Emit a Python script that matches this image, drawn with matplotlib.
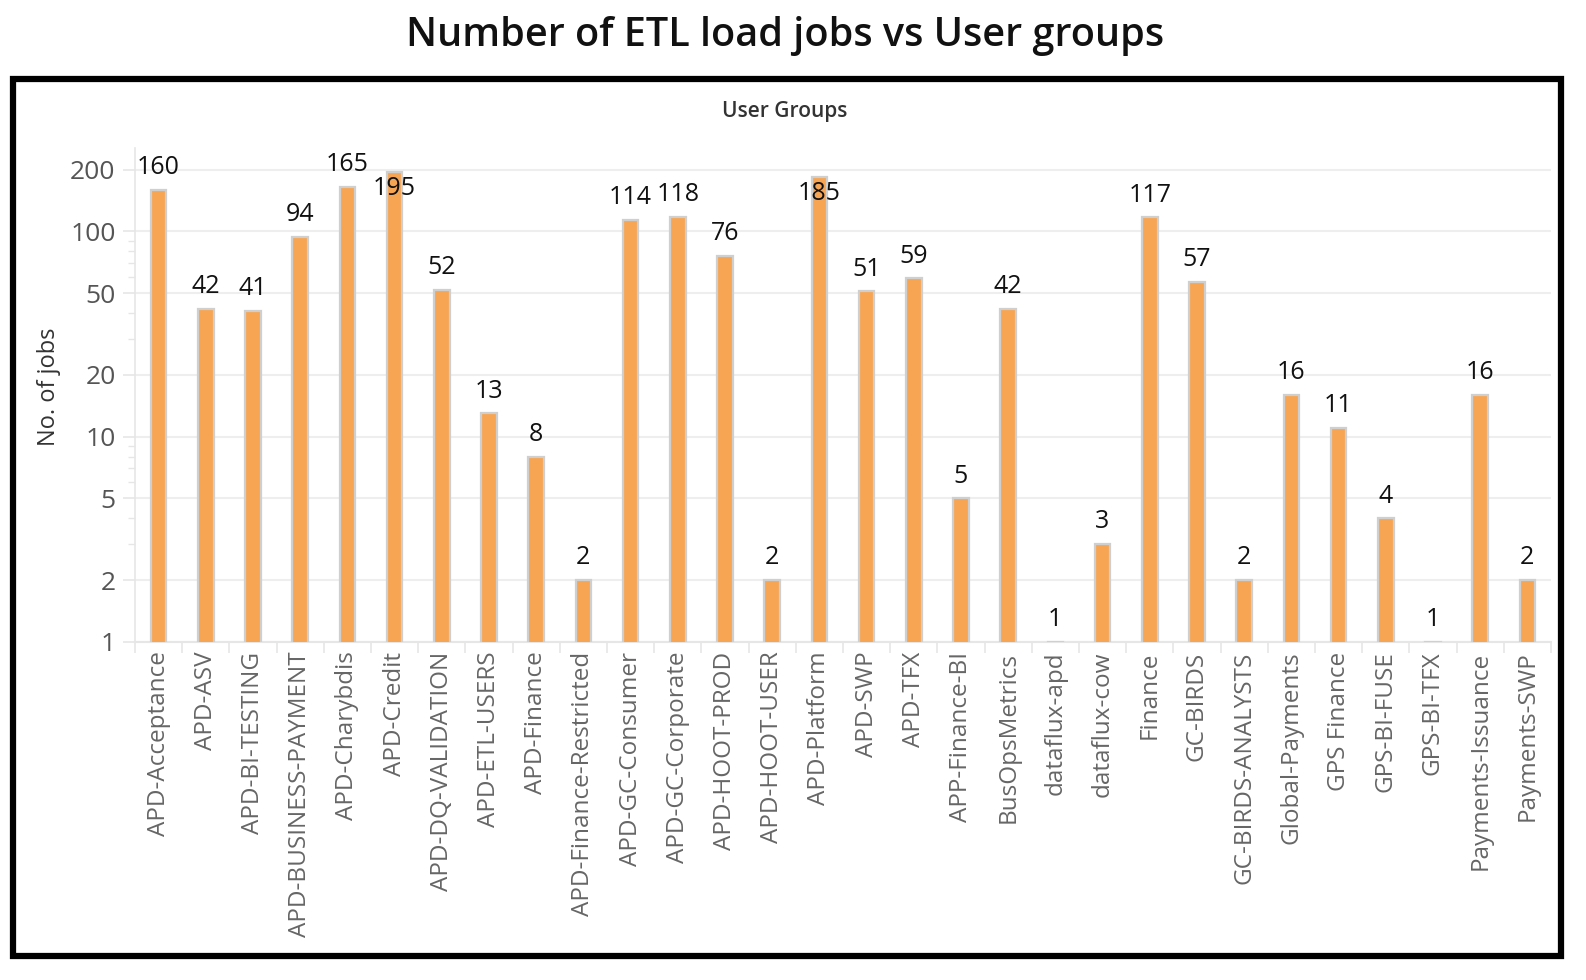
import numpy as np
import matplotlib
matplotlib.use("Agg")
import matplotlib.pyplot as plt
from matplotlib.patches import Rectangle
from matplotlib.ticker import FixedLocator, NullFormatter

# ----------------------------
# Data
# ----------------------------
groups = [
    "APD-Acceptance", "APD-ASV", "APD-BI-TESTING", "APD-BUSINESS-PAYMENT",
    "APD-Charybdis", "APD-Credit", "APD-DQ-VALIDATION", "APD-ETL-USERS",
    "APD-Finance", "APD-Finance-Restricted", "APD-GC-Consumer", "APD-GC-Corporate",
    "APD-HOOT-PROD", "APD-HOOT-USER", "APD-Platform", "APD-SWP", "APD-TFX",
    "APP-Finance-BI", "BusOpsMetrics", "dataflux-apd", "dataflux-cow", "Finance",
    "GC-BIRDS", "GC-BIRDS-ANALYSTS", "Global-Payments", "GPS Finance",
    "GPS-BI-FUSE", "GPS-BI-TFX", "Payments-Issuance", "Payments-SWP",
]
jobs = [160, 42, 41, 94, 165, 195, 52, 13, 8, 2, 114, 118, 76, 2, 185,
        51, 59, 5, 42, 1, 3, 117, 57, 2, 16, 11, 4, 1, 16, 2]

y_ticks = [1, 2, 5, 10, 20, 50, 100, 200]

# ----------------------------
# Plot
# ----------------------------
plt.rcParams["font.family"] = ["Open Sans", "DejaVu Sans"]

fig = plt.figure(figsize=(15.86, 9.8), dpi=100)
ax = fig.add_axes([0.0851, 0.345, 0.8928, 0.504])

x = np.arange(len(groups))
ax.bar(x, jobs, width=0.33, color="#F8A553", edgecolor="#CFCFCF", linewidth=1.6, zorder=3)

ax.set_yscale("log")
ax.set_ylim(1, 255)
ax.set_xlim(-0.5, len(groups) - 0.5)

ax.yaxis.set_major_locator(FixedLocator(y_ticks))
ax.set_yticklabels([str(t) for t in y_ticks])
minor = [v for d in [1, 10, 100] for v in np.arange(2, 10) * d if v not in y_ticks and v < 255]
ax.yaxis.set_minor_locator(FixedLocator(minor))
ax.yaxis.set_minor_formatter(NullFormatter())
ax.grid(axis="y", which="major", color="#EEEEEE", linewidth=1.5, zorder=0)

ax.tick_params(axis="y", which="major", length=9, width=1.2, color="#E6E6E6",
               labelsize=19, labelcolor="#555555", pad=5)
ax.tick_params(axis="y", which="minor", length=5, width=1.0, color="#E6E6E6")

ax.set_xticks(x)
ax.set_xticklabels(groups, rotation=90, fontsize=17.5, color="#666666")
ax.set_xticks(np.arange(-0.5, len(groups) + 0.5, 1), minor=True)
ax.tick_params(axis="x", which="major", length=0, pad=7)
ax.tick_params(axis="x", which="minor", length=8, width=1.2, color="#E6E6E6")

for side in ["top", "right"]:
    ax.spines[side].set_visible(False)
ax.spines["left"].set_color("#E6E6E6")
ax.spines["bottom"].set_color("#E6E6E6")
ax.spines["left"].set_linewidth(1.2)
ax.spines["bottom"].set_linewidth(1.5)

# value labels
for xi, v in zip(x, jobs):
    off = -12 if v > 180 else 16
    ax.annotate(str(v), (xi, v), xytext=(0, off), textcoords="offset points",
                ha="center", va="center", fontsize=18, color="#111111", zorder=4)

# titles and frame
fig.text(0.495, 0.963, "Number of ETL load jobs vs User groups", ha="center", va="center",
         fontsize=28.5, fontweight="semibold", color="#111111")
fig.text(0.495, 0.886, "User Groups", ha="center", va="center",
         fontsize=15, fontweight="semibold", color="#333333")
fig.text(0.031, 0.605, "No. of jobs", ha="center", va="center", rotation=90,
         fontsize=17, color="#333333")

fig.patches.append(Rectangle((0.0085, 0.024), 0.976, 0.895, transform=fig.transFigure,
                             fill=False, edgecolor="black", linewidth=4.5))

plt.savefig("out.png", dpi=100)
plt.close()
